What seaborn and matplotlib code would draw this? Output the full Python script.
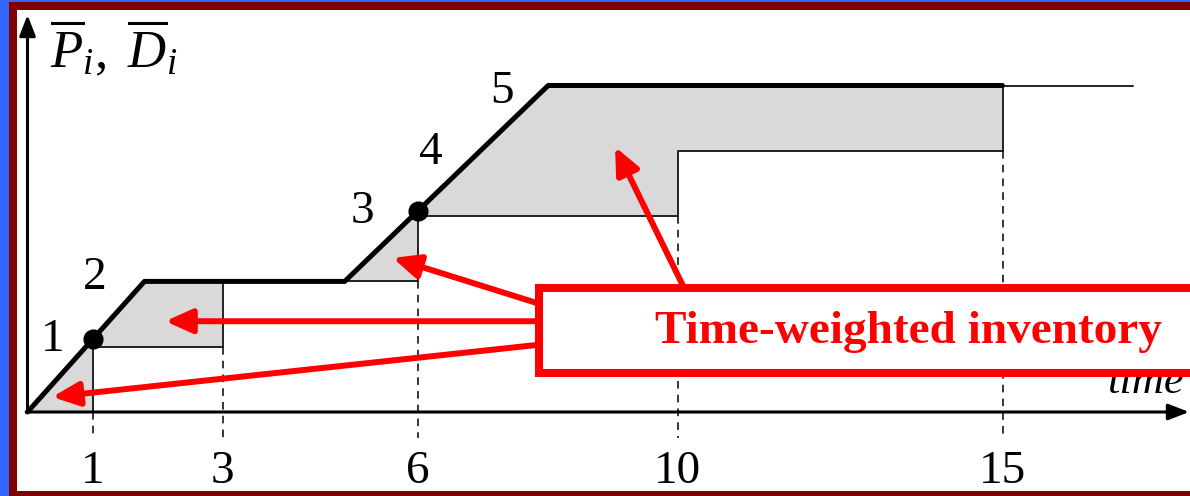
import numpy as np
import matplotlib
matplotlib.use("Agg")
import matplotlib.pyplot as plt
from matplotlib.patches import Rectangle
import seaborn as sns

# Cumulative production (thick) and cumulative demand (thin step) over time
prod_t = [0, 1.80, 4.88, 8.01, 15]
prod_v = [0, 2, 2, 5, 5]
dem_t = [0, 1, 3, 6, 10, 15, 17]
dem_v = [0, 1, 2, 3, 4, 5, 5]
tick_times = [1, 3, 6, 10, 15]
tick_labels = ["1", "3", "6", "10", "15"]
event_times = [1, 6]
point_labels = ["1", "2", "3", "4", "5"]
point_label_t = [0.38, 1.04, 5.16, 6.19, 7.30]
point_label_v = [1.10, 2.05, 3.06, 3.97, 4.90]
callout = "Time-weighted inventory"

sns.set_theme(style="white")
plt.rcParams["font.family"] = ["Liberation Serif", "DejaVu Serif"]
plt.rcParams["mathtext.fontset"] = "custom"
plt.rcParams["mathtext.rm"] = "Liberation Serif"
plt.rcParams["mathtext.it"] = "Liberation Serif:italic"
plt.rcParams["mathtext.bf"] = "Liberation Serif:bold"

W, H = 1190, 496
fig = plt.figure(figsize=(W / 100, H / 100), dpi=100, facecolor="#3366ff")
ax = fig.add_axes([0, 0, 1, 1])
ax.set_axis_off()
ax.set_xlim(-27.5 / 65, (W - 27.5) / 65)
ax.set_ylim(-(H - 412) / 65.3, 412 / 65.3)

# slide frame: dark red border with white panel
ax.add_patch(Rectangle((9 / W, 0), 1, 494 / H, transform=ax.transAxes,
                       facecolor="#800000", edgecolor="none", zorder=0))
ax.add_patch(Rectangle((17 / W, 5 / H), 1, 481 / H, transform=ax.transAxes,
                       facecolor="white", edgecolor="none", zorder=0.5))

# inventory area between production and demand
for k in range(len(dem_t) - 1):
    ts = np.linspace(dem_t[k], dem_t[k + 1], 400)
    ps = np.interp(ts, prod_t, prod_v)
    ds = np.full_like(ts, dem_v[k])
    ax.fill_between(ts, ds, ps, where=ps > ds, interpolate=True,
                    color="#d9d9d9", linewidth=0, zorder=1)

# demand step curve
sns.lineplot(x=dem_t, y=dem_v, ax=ax, drawstyle="steps-post", estimator=None,
             color="#222222", linewidth=1.4, zorder=2)

# dashed guides down to the time axis
for k, t in enumerate(tick_times):
    ax.plot([t, t], [dem_v[k], -0.40], color="black", lw=1.1,
            ls=(0, (5, 4)), zorder=2)
    ax.text(t, -1.087, tick_labels[k], ha="center", va="baseline",
            fontsize=34, color="black")

# production curve
sns.lineplot(x=prod_t, y=prod_v, ax=ax, estimator=None, sort=False,
             color="black", linewidth=3.6, zorder=3)
ev_v = np.interp(event_times, prod_t, prod_v)
sns.scatterplot(x=event_times, y=ev_v, ax=ax, s=180, color="black",
                edgecolor="black", zorder=4)

for lab, t, v in zip(point_labels, point_label_t, point_label_v):
    ax.text(t, v, lab, ha="center", va="center", fontsize=34, color="black")

# axes with arrowheads
ax.annotate("", xy=(0, 6.08), xytext=(0, 0),
            arrowprops=dict(arrowstyle="-|>,head_length=0.9,head_width=0.35",
                            lw=2.2, color="black", shrinkA=0, shrinkB=0,
                            mutation_scale=14), zorder=5)
ax.annotate("", xy=(17.87, 0), xytext=(-0.02, 0),
            arrowprops=dict(arrowstyle="-|>,head_length=0.9,head_width=0.35",
                            lw=2.2, color="black", shrinkA=0, shrinkB=0,
                            mutation_scale=14), zorder=5)

ax.text(0.35, 5.27, r"$\overline{P}_i,\ \overline{D}_i$", ha="left",
        va="baseline", fontsize=38, color="black")
ax.text(17.78, 0.29, "time", ha="right", va="baseline", fontsize=32,
        style="italic", color="black", zorder=5)

# callout arrows pointing at the shaded areas
arrows = [((7.88, 1.39), (2.12, 1.39)),
          ((7.96, 1.04), (0.38, 0.23)),
          ((7.96, 1.63), (5.62, 2.36)),
          ((10.13, 1.84), (9.04, 4.06))]
for start, tip in arrows:
    ax.annotate("", xy=tip, xytext=start,
                arrowprops=dict(arrowstyle="-|>,head_length=0.8,head_width=0.36",
                                lw=4.3, color="#ff0000", shrinkA=0, shrinkB=0,
                                mutation_scale=20), zorder=6)

ax.add_patch(Rectangle((7.87, 0.60), 12, 1.30, facecolor="white",
                       edgecolor="#ff0000", linewidth=5.8, zorder=7,
                       clip_on=False))
ax.text(9.65, 1.057, callout, ha="left", va="baseline", fontsize=34,
        fontweight="bold", color="#ff0000", zorder=8)

fig.savefig("out.png", dpi=100, facecolor=fig.get_facecolor())
